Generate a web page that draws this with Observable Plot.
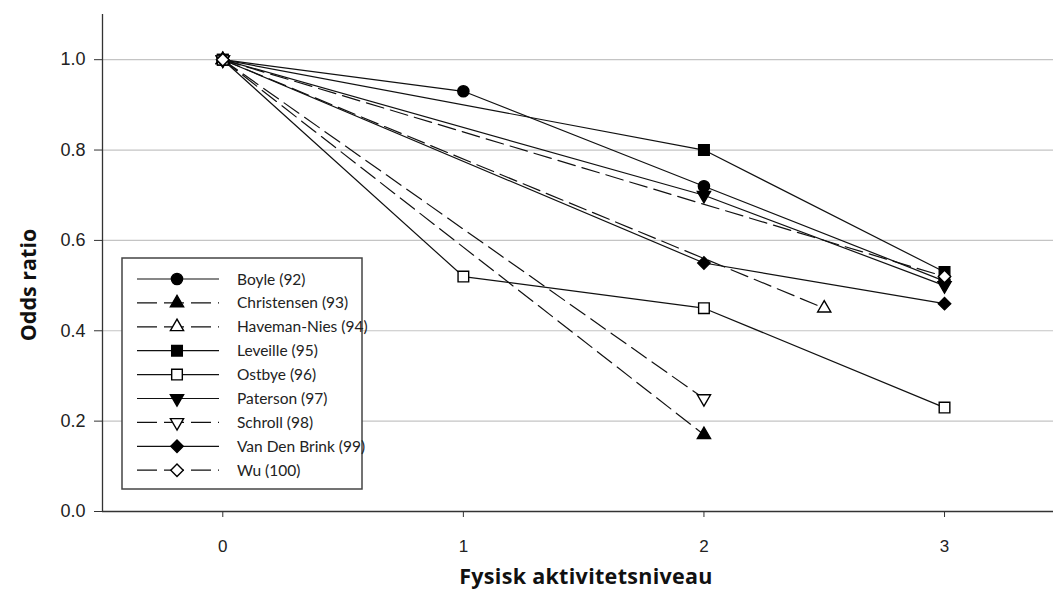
<!DOCTYPE html>
<html>
<head>
<meta charset="utf-8">
<script src="https://cdn.jsdelivr.net/npm/d3@7"></script>
<script src="https://cdn.jsdelivr.net/npm/@observablehq/plot@0.6"></script>
<style>
  html, body { margin: 0; padding: 0; background: #fff; }
  #chart { position: relative; width: 1053px; height: 592px; }
  #chart svg { display: block; }
</style>
</head>
<body>
<div id="chart"></div>
<script>
// ---- data ----
const studies = ["Boyle (92)", "Christensen (93)", "Haveman-Nies (94)", "Leveille (95)", "Ostbye (96)",
                 "Paterson (97)", "Schroll (98)", "Van Den Brink (99)", "Wu (100)"];
const levels = [
  [0, 1, 2, 3],
  [0, 2],
  [0, 2.5],
  [0, 2, 3],
  [0, 1, 2, 3],
  [0, 2, 3],
  [0, 2],
  [0, 2, 3],
  [0, 3]
];
const oddsRatios = [
  [1.0, 0.93, 0.72, 0.51],
  [1.0, 0.17],
  [1.0, 0.45],
  [1.0, 0.80, 0.53],
  [1.0, 0.52, 0.45, 0.23],
  [1.0, 0.70, 0.50],
  [1.0, 0.25],
  [1.0, 0.55, 0.46],
  [1.0, 0.52]
];
const yTicks = [0, 0.2, 0.4, 0.6, 0.8, 1.0];
const xTicks = [0, 1, 2, 3];

// ---- styles ----
const symbols = ["circle", "triangle", "triangle", "square", "square", "triangle", "triangle", "diamond2", "diamond2"];
const filled  = [true, true, false, true, false, true, false, true, false];
const dashed  = [false, true, true, false, false, false, true, false, true];
const flipped = [false, false, false, false, false, true, true, false, false];
const radius = {circle: 5.6, triangle: 4.9, square: 6.0, diamond2: 5.6};

const rowsBy = studies.map((s, i) => levels[i].map((l, j) => ({study: s, level: l, or: oddsRatios[i][j]})));

const lineMarks = rowsBy.map((rows, i) => Plot.line(rows, {
  x: "level", y: "or", stroke: "#111", strokeWidth: 1.2,
  strokeDasharray: dashed[i] ? "18,7" : null
}));
const dotMarks = rowsBy.map((rows, i) => Plot.dot(rows, {
  x: "level", y: "or", symbol: symbols[i], r: radius[symbols[i]],
  fill: filled[i] ? "#000" : "#fff", stroke: "#000", strokeWidth: 1.4,
  rotate: flipped[i] ? 180 : 0
}));

const plot = Plot.plot({
  width: 1053,
  height: 592,
  marginLeft: 102,
  marginRight: 0,
  marginTop: 14,
  marginBottom: 81,
  style: {fontFamily: "'Liberation Sans', Arial, sans-serif", fontSize: "17px", color: "#222", background: "#fff"},
  x: {domain: [-0.5, 3.453]},
  y: {domain: [0, 1.1]},
  marks: [
    Plot.gridY(yTicks.slice(1), {stroke: "#c4c4c4", strokeOpacity: 1, strokeWidth: 1.2}),
    Plot.axisY(yTicks, {tickFormat: d3.format(".1f"), tickSize: 8, tickPadding: 9, label: null, stroke: "#333", fill: "#222", fontSize: 18}),
    Plot.axisX(xTicks, {tickFormat: d3.format("d"), tickSize: 6, tickPadding: 22, label: null, stroke: "#333", fill: "#222", fontSize: 17}),
    Plot.ruleY([0], {stroke: "#333", strokeWidth: 1.3}),
    Plot.ruleX([-0.5], {stroke: "#333", strokeWidth: 1.3}),
    ...lineMarks,
    ...dotMarks
  ]
});

const container = document.getElementById("chart");
container.appendChild(plot);

// axis titles
const svg = d3.select(plot);
svg.append("text")
  .attr("x", 586).attr("y", 578)
  .attr("text-anchor", "middle").attr("dominant-baseline", "middle")
  .style("font-family", "'Open Sans', sans-serif").style("font-weight", 700).style("font-size", "21.5px").attr("fill", "#111")
  .style("letter-spacing", "0.3px")
  .text("Fysisk aktivitetsniveau");
svg.append("text")
  .attr("transform", "translate(30,285) rotate(-90)")
  .attr("text-anchor", "middle").attr("dominant-baseline", "middle")
  .style("font-family", "'Open Sans', sans-serif").style("font-weight", 700).style("font-size", "21.5px").attr("fill", "#111")
  .text("Odds ratio");

// legend
const lg = svg.append("g").attr("transform", "translate(122,258)");
lg.append("rect").attr("x", 0).attr("y", 0).attr("width", 240).attr("height", 231)
  .attr("fill", "#fff").attr("stroke", "#444").attr("stroke-width", 1.5);
studies.forEach((s, i) => {
  const y = 21 + i * 23.9;
  lg.append("line").attr("x1", 15).attr("x2", 97).attr("y1", y).attr("y2", y)
    .attr("stroke", "#111").attr("stroke-width", 1.2)
    .attr("stroke-dasharray", dashed[i] ? "20,7" : null);
  const r = radius[symbols[i]];
  const sym = {circle: d3.symbolCircle, triangle: d3.symbolTriangle, square: d3.symbolSquare, diamond2: d3.symbolDiamond2}[symbols[i]];
  lg.append("path").attr("d", d3.symbol(sym, Math.PI * r * r)())
    .attr("transform", `translate(55,${y}) rotate(${flipped[i] ? 180 : 0})`)
    .attr("fill", filled[i] ? "#000" : "#fff").attr("stroke", "#000").attr("stroke-width", 1.4);
  lg.append("text").attr("x", 115).attr("y", y).attr("dy", "0.36em")
    .attr("text-anchor", "start")
    .style("font-family", "Lato, 'Open Sans', sans-serif").style("font-size", "15.5px").attr("fill", "#222")
    .text(s);
});
</script>
</body>
</html>
